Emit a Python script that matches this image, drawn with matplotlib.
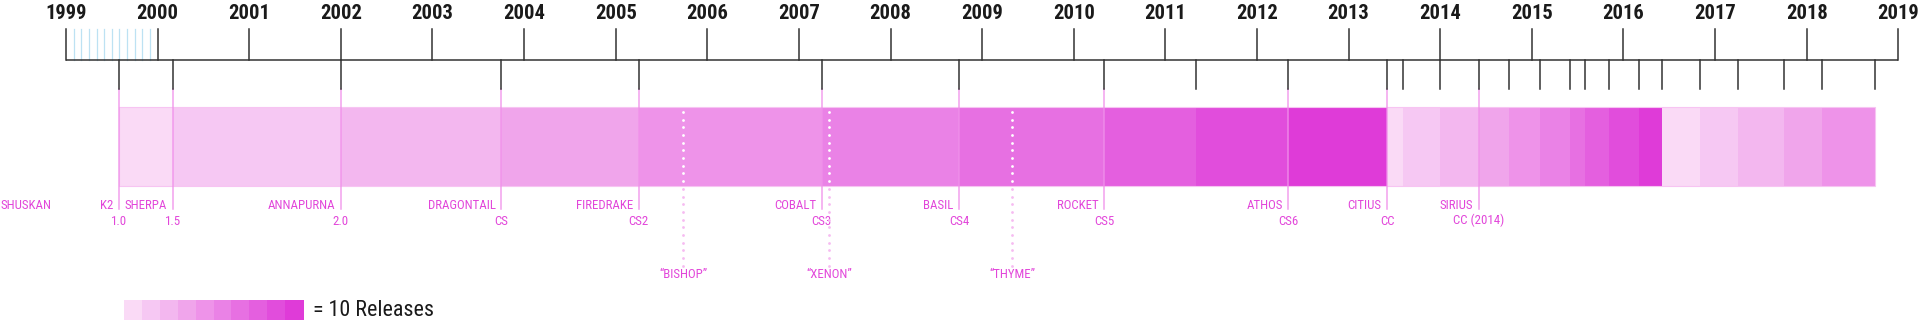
import matplotlib
matplotlib.use('Agg')
import matplotlib.pyplot as plt
import numpy as np
from matplotlib import font_manager

# ---------------- data ----------------
years = list(range(1999, 2020))
release_dates = [1999.58, 2000.165, 2002.0, 2003.75, 2005.25, 2007.25, 2008.75,
                 2010.33, 2011.33, 2012.34, 2013.42, 2013.59, 2014.0, 2014.42,
                 2014.75, 2015.09, 2015.42, 2015.58, 2015.84, 2016.17, 2016.42,
                 2016.84, 2017.25, 2017.75, 2018.17, 2018.75]
labeled_dates = [1999.58, 2000.165, 2002.0, 2003.75, 2005.25, 2007.25, 2008.75,
                 2010.33, 2012.34, 2013.42, 2014.42]
codenames = ['K2', 'SHERPA', 'ANNAPURNA', 'DRAGONTAIL', 'FIREDRAKE', 'COBALT',
             'BASIL', 'ROCKET', 'ATHOS', 'CITIUS', 'SIRIUS']
versions = ['1.0', '1.5', '2.0', 'CS', 'CS2', 'CS3', 'CS4', 'CS5', 'CS6', 'CC',
            'CC (2014)']
cancelled_dates = [2005.74, 2007.33, 2009.33]
cancelled_names = ['\u201cBISHOP\u201d', '\u201cXENON\u201d', '\u201cTHYME\u201d']
first_codename = 'SHUSKAN'
legend_text = '= 10 Releases'

shades = ['#fadaf6', '#f6c8f3', '#f3b7ef', '#f0a5eb', '#ee93e9',
          '#ea82e6', '#e770e2', '#e45fdf', '#e14ddc', '#df3bd8']

# ---------------- fonts ----------------
installed = {f.name for f in font_manager.fontManager.ttflist}
narrow = None
for cand in ['Liberation Sans Narrow', 'Roboto Condensed', 'DejaVu Sans Condensed',
             'Open Sans Condensed', 'Arial Narrow']:
    if cand in installed:
        narrow = cand
        break
if narrow is None:
    narrow = 'Liberation Sans' if 'Liberation Sans' in installed else 'DejaVu Sans'
    scale = 0.85
else:
    scale = 1.0
FAM = [narrow, 'DejaVu Sans']

# ---------------- layout ----------------
W, H = 1920, 322
ppy = 91.615          # pixels per year
x0 = 1999 - 66 / ppy
x1 = x0 + W / ppy

PINK = '#e246da'
LINE = '#333333'

fig = plt.figure(figsize=(W / 100, H / 100), dpi=100)
ax = fig.add_axes([0, 0, 1, 1])
ax.set_xlim(x0, x1)
ax.set_ylim(H, 0)
ax.axis('off')

# monthly hatch in 1999
for k in range(1, 12):
    ax.plot([1999 + k / 12] * 2, [29, 60], color='#bde2f3', lw=0.9, zorder=1)

# main timeline
ax.plot([years[0], years[-1]], [60, 60], color=LINE, lw=1.1, zorder=3,
        solid_capstyle='butt')
for y in years:
    ax.plot([y, y], [29, 60], color=LINE, lw=1.1, zorder=3)
    ax.text(y, 18.5, str(y), ha='center', va='baseline', fontsize=14.8 * scale,
            fontweight='bold', family=FAM, color='#1a1a1a')

for d in release_dates:
    ax.plot([d, d], [60, 89], color=LINE, lw=1.1, zorder=3)

# bar segments
bar_top, bar_bot = 107, 186
for i in range(len(release_dates) - 1):
    a, b = release_dates[i], release_dates[i + 1]
    ax.barh((bar_top + bar_bot) / 2, b - a, left=a, height=bar_bot - bar_top,
            color=shades[i % 10], edgecolor='none', zorder=2)
# light outline
ax.barh((bar_top + bar_bot) / 2, release_dates[-1] - release_dates[0],
        left=release_dates[0], height=bar_bot - bar_top, facecolor='none',
        edgecolor='#f7c4f2', lw=0.8, zorder=2.5)

# labeled releases
fs_small = 9.3 * scale
for d, cn, v in zip(labeled_dates, codenames, versions):
    ax.plot([d, d], [89, 209], color='#f090ea', lw=1.1, alpha=0.85, zorder=2.6)
    ax.annotate(cn, xy=(d, 209), xytext=(-4, 0), textcoords='offset points',
                ha='right', va='baseline', fontsize=fs_small, family=FAM,
                color=PINK)
    ax.text(d, 224.5, v, ha='center', va='baseline', fontsize=fs_small,
            family=FAM, color=PINK)

ax.text(x0 + 0.5 / ppy, 209, first_codename, ha='left', va='baseline',
        fontsize=fs_small, family=FAM, color=PINK)

# cancelled versions (dotted)
for d, n in zip(cancelled_dates, cancelled_names):
    ys_in = np.arange(112, 182, 7.65)
    ax.scatter([d] * len(ys_in), ys_in, s=4, color='white', zorder=4,
               linewidths=0)
    ys_out = np.arange(189, 266, 7.65)
    ax.scatter([d] * len(ys_out), ys_out, s=4, color='#f6bcf1', zorder=4,
               linewidths=0)
    ax.text(d, 278, n, ha='center', va='baseline', fontsize=fs_small,
            family=FAM, color=PINK)

# legend
lx0, lw_ = 124, 17.9
for i, c in enumerate(shades):
    ax.barh(310, (lw_ + 0.6) / ppy, left=x0 + (lx0 + i * lw_) / ppy, height=20,
            color=c, edgecolor='none', linewidth=0)
ax.text(x0 + 313 / ppy, 316.5, legend_text, ha='left', va='baseline',
        fontsize=15.8 * scale, family=FAM, color='#1a1a1a')

fig.savefig('out.png', dpi=100)
